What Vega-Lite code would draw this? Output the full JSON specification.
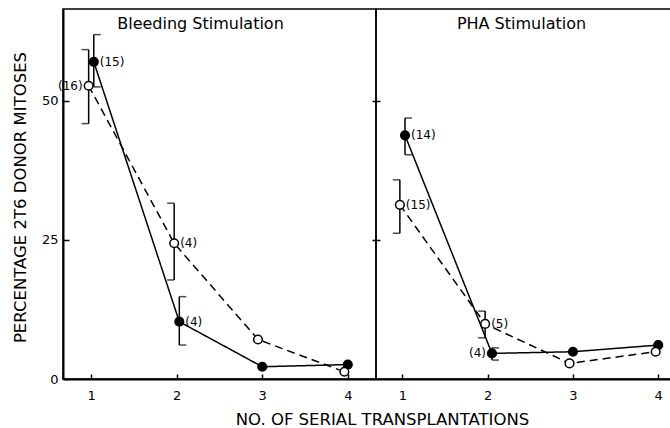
{
  "$schema": "https://vega.github.io/schema/vega-lite/v6.json",
  "autosize": {"type": "pad"},
  "padding": {"left": 11, "top": 8, "right": 0, "bottom": 0},
  "background": "white",
  "spacing": 0,
  "bounds": "flush",
  "config": {
    "font": "DejaVu Sans",
    "view": {"stroke": "black", "strokeWidth": 1.5},
    "axis": {"grid": false, "domainColor": "black", "domainWidth": 2, "tickColor": "black", "tickWidth": 1.5, "labelColor": "black", "titleColor": "black", "labelFont": "DejaVu Sans", "titleFont": "DejaVu Sans", "labelFontSize": 13, "titleFontWeight": "normal"},
    "title": {"font": "DejaVu Sans", "fontSize": 16, "fontWeight": "normal", "color": "black"}
  },
  "data": {"values": [
    {"panel": "B", "series": "filled", "x": 1.03, "y": 57.0, "lo": 52.5, "hi": 61.9, "cap": "right", "n": "(15)", "side": "right"},
    {"panel": "B", "series": "filled", "x": 2.03, "y": 10.3, "lo": 6.1, "hi": 14.8, "cap": "right", "n": "(4)", "side": "right"},
    {"panel": "B", "series": "filled", "x": 3.0, "y": 2.2},
    {"panel": "B", "series": "filled", "x": 4.0, "y": 2.6},
    {"panel": "B", "series": "open", "x": 0.97, "y": 52.7, "lo": 45.9, "hi": 59.2, "cap": "left", "n": "(16)", "side": "left"},
    {"panel": "B", "series": "open", "x": 1.97, "y": 24.4, "lo": 17.8, "hi": 31.6, "cap": "left", "n": "(4)", "side": "right"},
    {"panel": "B", "series": "open", "x": 2.95, "y": 7.1},
    {"panel": "B", "series": "open", "x": 3.96, "y": 1.3},
    {"panel": "P", "series": "filled", "x": 1.03, "y": 43.8, "lo": 40.3, "hi": 46.9, "cap": "right", "n": "(14)", "side": "right"},
    {"panel": "P", "series": "filled", "x": 2.05, "y": 4.6, "lo": 3.4, "hi": 5.6, "cap": "right", "n": "(4)", "side": "left"},
    {"panel": "P", "series": "filled", "x": 3.0, "y": 4.9},
    {"panel": "P", "series": "filled", "x": 4.0, "y": 6.1},
    {"panel": "P", "series": "open", "x": 0.97, "y": 31.3, "lo": 26.2, "hi": 35.8, "cap": "left", "n": "(15)", "side": "right"},
    {"panel": "P", "series": "open", "x": 1.97, "y": 9.9, "lo": 7.4, "hi": 12.2, "cap": "left", "n": "(5)", "side": "right"},
    {"panel": "P", "series": "open", "x": 2.96, "y": 2.8},
    {"panel": "P", "series": "open", "x": 3.97, "y": 4.9}
  ]},
  "hconcat": [
    {
      "width": 313, "height": 370,
      "title": {"text": "Bleeding Stimulation", "offset": -23, "dx": -19},
      "transform": [{"filter": "datum.panel === 'B'"}],
      "layer": [
        {"mark": {"type": "line", "color": "black", "strokeWidth": 1.5},
         "encoding": {
           "x": {"field": "x", "type": "quantitative", "scale": {"domain": [0.67, 4.33], "nice": false, "zero": false},
                 "axis": {"values": [1, 2, 3, 4], "format": "d", "tickSize": -5, "labelPadding": 15, "title": "NO. OF SERIAL TRANSPLANTATIONS", "titleFontSize": 16.5, "titleX": 319, "titleY": 45, "titleAlign": "center", "titleBaseline": "alphabetic"}},
           "y": {"field": "y", "type": "quantitative", "scale": {"domain": [0, 66.5], "nice": false},
                 "axis": {"values": [0, 25, 50], "tickSize": -6, "labelPadding": 11, "title": "PERCENTAGE 2T6 DONOR MITOSES", "titleFontSize": 16.5, "titleX": -43, "titleY": 188, "titleAngle": -90, "titleAlign": "center", "titleBaseline": "middle"}},
           "strokeDash": {"field": "series", "type": "nominal", "scale": {"domain": ["filled", "open"], "range": [[1, 0], [8, 5]]}, "legend": null}
         }},
        {"transform": [{"filter": "isValid(datum.lo)"}],
         "mark": {"type": "rule", "color": "black", "strokeWidth": 1.5},
         "encoding": {"x": {"field": "x", "type": "quantitative"}, "y": {"field": "lo", "type": "quantitative"}, "y2": {"field": "hi"}}},
        {"transform": [{"filter": "datum.cap === 'right'"}, {"fold": ["lo", "hi"], "as": ["end", "ev"]}],
         "mark": {"type": "tick", "orient": "horizontal", "color": "black", "size": 7, "thickness": 1.5, "xOffset": 3.5},
         "encoding": {"x": {"field": "x", "type": "quantitative"}, "y": {"field": "ev", "type": "quantitative"}}},
        {"transform": [{"filter": "datum.cap === 'left'"}, {"fold": ["lo", "hi"], "as": ["end", "ev"]}],
         "mark": {"type": "tick", "orient": "horizontal", "color": "black", "size": 7, "thickness": 1.5, "xOffset": -3.5},
         "encoding": {"x": {"field": "x", "type": "quantitative"}, "y": {"field": "ev", "type": "quantitative"}}},
        {"mark": {"type": "point", "shape": "circle", "size": 75, "filled": true, "stroke": "black", "strokeWidth": 1.5, "opacity": 1},
         "encoding": {"x": {"field": "x", "type": "quantitative"}, "y": {"field": "y", "type": "quantitative"},
                      "fill": {"field": "series", "type": "nominal", "scale": {"domain": ["filled", "open"], "range": ["black", "white"]}, "legend": null}}},
        {"transform": [{"filter": "datum.side === 'right'"}],
         "mark": {"type": "text", "align": "left", "baseline": "middle", "dx": 6, "fontSize": 12, "color": "black"},
         "encoding": {"x": {"field": "x", "type": "quantitative"}, "y": {"field": "y", "type": "quantitative"}, "text": {"field": "n"}}},
        {"transform": [{"filter": "datum.side === 'left'"}],
         "mark": {"type": "text", "align": "right", "baseline": "middle", "dx": -6, "fontSize": 12, "color": "black"},
         "encoding": {"x": {"field": "x", "type": "quantitative"}, "y": {"field": "y", "type": "quantitative"}, "text": {"field": "n"}}}
      ]
    },
    {
      "width": 295, "height": 370,
      "title": {"text": "PHA Stimulation", "offset": -23, "dx": -2},
      "transform": [{"filter": "datum.panel === 'P'"}],
      "layer": [
        {"mark": {"type": "line", "color": "black", "strokeWidth": 1.5},
         "encoding": {
           "x": {"field": "x", "type": "quantitative", "scale": {"domain": [0.69, 4.15], "nice": false, "zero": false},
                 "axis": {"values": [1, 2, 3, 4], "format": "d", "tickSize": -5, "labelPadding": 15, "title": null}},
           "y": {"field": "y", "type": "quantitative", "scale": {"domain": [0, 66.5], "nice": false},
                 "axis": {"values": [25, 50], "labels": false, "domain": false, "tickSize": 8, "offset": -4, "title": null}},
           "strokeDash": {"field": "series", "type": "nominal", "scale": {"domain": ["filled", "open"], "range": [[1, 0], [8, 5]]}, "legend": null}
         }},
        {"transform": [{"filter": "isValid(datum.lo)"}],
         "mark": {"type": "rule", "color": "black", "strokeWidth": 1.5},
         "encoding": {"x": {"field": "x", "type": "quantitative"}, "y": {"field": "lo", "type": "quantitative"}, "y2": {"field": "hi"}}},
        {"transform": [{"filter": "datum.cap === 'right'"}, {"fold": ["lo", "hi"], "as": ["end", "ev"]}],
         "mark": {"type": "tick", "orient": "horizontal", "color": "black", "size": 7, "thickness": 1.5, "xOffset": 3.5},
         "encoding": {"x": {"field": "x", "type": "quantitative"}, "y": {"field": "ev", "type": "quantitative"}}},
        {"transform": [{"filter": "datum.cap === 'left'"}, {"fold": ["lo", "hi"], "as": ["end", "ev"]}],
         "mark": {"type": "tick", "orient": "horizontal", "color": "black", "size": 7, "thickness": 1.5, "xOffset": -3.5},
         "encoding": {"x": {"field": "x", "type": "quantitative"}, "y": {"field": "ev", "type": "quantitative"}}},
        {"mark": {"type": "point", "shape": "circle", "size": 75, "filled": true, "stroke": "black", "strokeWidth": 1.5, "opacity": 1},
         "encoding": {"x": {"field": "x", "type": "quantitative"}, "y": {"field": "y", "type": "quantitative"},
                      "fill": {"field": "series", "type": "nominal", "scale": {"domain": ["filled", "open"], "range": ["black", "white"]}, "legend": null}}},
        {"transform": [{"filter": "datum.side === 'right'"}],
         "mark": {"type": "text", "align": "left", "baseline": "middle", "dx": 6, "fontSize": 12, "color": "black"},
         "encoding": {"x": {"field": "x", "type": "quantitative"}, "y": {"field": "y", "type": "quantitative"}, "text": {"field": "n"}}},
        {"transform": [{"filter": "datum.side === 'left'"}],
         "mark": {"type": "text", "align": "right", "baseline": "middle", "dx": -6, "fontSize": 12, "color": "black"},
         "encoding": {"x": {"field": "x", "type": "quantitative"}, "y": {"field": "y", "type": "quantitative"}, "text": {"field": "n"}}}
      ]
    }
  ]
}
